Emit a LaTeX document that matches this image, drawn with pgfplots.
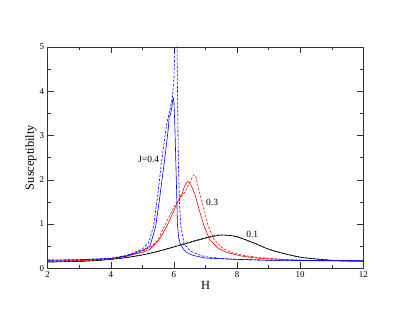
\documentclass[border=0pt]{standalone}
\usepackage{fontspec}
\setmainfont{Liberation Serif}
\usepackage{pgfplots}
\pgfplotsset{compat=1.18}
\begin{document}
\begin{tikzpicture}
\begin{axis}[
  scale only axis,
  width=315.7bp, height=221.3bp,
  xmin=2, xmax=12, ymin=0, ymax=5,
  xtick={2,4,6,8,10,12}, minor x tick num=1,
  ytick={0,1,2,3,4,5}, minor y tick num=1,
  tick align=inside,
  major tick length=6bp, minor tick length=3bp,
  axis line style={black!80},
  every tick/.style={black!80},
  /pgf/number format/assume math mode=true,
  tick label style={font=\fontsize{9}{9}\selectfont},
  xlabel={H}, ylabel={Susceptibilty},
  label style={font=\fontsize{12.5}{12.5}\selectfont},
  xlabel style={at={(axis description cs:0.5,-0.0786)}, anchor=center},
  ylabel style={at={(axis description cs:-0.0529,0.5)}, anchor=center},
  every axis plot/.append style={line width=0.6bp},
  clip=true,
]
% J=0.1
\addplot[black, smooth] coordinates {
  (2,0.14) (2.5,0.145) (3,0.155) (3.5,0.17) (4,0.2) (4.5,0.24) (5,0.3)
  (5.5,0.38) (6,0.48) (6.5,0.58) (7,0.68) (7.25,0.72) (7.5,0.75) (7.75,0.74)
  (8,0.71) (8.5,0.58) (9,0.43) (9.5,0.33) (10,0.25) (10.5,0.21) (11,0.18)
  (11.5,0.165) (12,0.16)
};
\addplot[black, smooth, dash pattern=on 2.5bp off 1.5bp] coordinates {
  (2,0.145) (2.5,0.15) (3,0.16) (3.5,0.175) (4,0.205) (4.5,0.245) (5,0.305)
  (5.5,0.385) (6,0.49) (6.5,0.59) (7,0.69) (7.25,0.73) (7.45,0.755) (7.7,0.745)
  (8,0.71) (8.5,0.58) (9,0.43) (9.5,0.33) (10,0.25) (10.5,0.21) (11,0.18)
  (11.5,0.165) (12,0.16)
};
% J=0.3
\addplot[red] coordinates {
  (2,0.16) (3,0.17) (4,0.21) (4.5,0.27) (5,0.36) (5.24,0.43) (5.53,0.64)
  (5.77,0.94) (5.96,1.24) (6.1,1.47) (6.26,1.69) (6.35,1.88) (6.43,1.96)
  (6.5,1.93) (6.58,1.82) (6.67,1.66) (6.8,1.32) (6.96,0.94) (7.14,0.64)
  (7.4,0.45) (7.7,0.35) (8.1,0.28) (8.6,0.23) (9.3,0.2) (10.3,0.17) (12,0.16)
};
\addplot[red, dash pattern=on 2.5bp off 1.5bp] coordinates {
  (2,0.165) (3,0.175) (4,0.215) (4.5,0.27) (5,0.38) (5.3,0.5) (5.5,0.65)
  (5.69,0.94) (5.9,1.24) (6.05,1.45) (6.2,1.58) (6.37,1.75) (6.51,1.95)
  (6.6,2.08) (6.64,2.11) (6.7,2.05) (6.82,1.69) (6.96,1.32) (7.09,0.94)
  (7.28,0.64) (7.55,0.45) (7.8,0.36) (8.2,0.29) (8.7,0.24) (9.5,0.2)
  (10.5,0.17) (12,0.16)
};
% J=0.4
\addplot[blue] coordinates {
  (2,0.18) (3,0.19) (4,0.22) (4.5,0.28) (5,0.4) (5.24,0.5) (5.42,0.94)
  (5.55,1.6) (5.69,2.37) (5.78,2.9) (5.82,3.15) (5.85,3.42) (5.89,3.47)
  (5.93,3.62) (5.96,3.8) (5.98,3.84) (6.0,3.75) (6.03,3.2) (6.06,2.4)
  (6.09,1.6) (6.11,1.0) (6.15,0.7) (6.2,0.55) (6.3,0.43) (6.4,0.36)
  (6.6,0.29) (7,0.23) (8,0.2) (9,0.18) (10,0.175) (12,0.17)
};
\addplot[blue, dash pattern=on 2.5bp off 1.5bp] coordinates {
  (2,0.185) (3,0.195) (4,0.225) (4.5,0.29) (5,0.43) (5.2,0.58) (5.35,0.94)
  (5.48,1.6) (5.6,2.37) (5.7,2.9) (5.78,3.3) (5.83,3.45) (5.88,3.6)
  (5.95,3.85) (6.0,4.3) (6.03,5.0) (6.06,6.5) (6.075,8) (6.09,6.5)
  (6.1,4.8) (6.12,3.6) (6.14,2.4) (6.18,1.4) (6.22,0.94) (6.32,0.56)
  (6.45,0.44) (6.55,0.38) (6.8,0.3) (7,0.26) (7.5,0.22) (8,0.2) (9,0.18)
  (12,0.17)
};
\node[font=\fontsize{9.5}{9.5}\selectfont] at (axis cs:5.2,2.47) {J=0.4};
\node[font=\fontsize{9.5}{9.5}\selectfont] at (axis cs:7.21,1.49) {0.3};
\node[font=\fontsize{9.5}{9.5}\selectfont] at (axis cs:8.48,0.77) {0.1};
\end{axis}
\path ([xshift=-47.7bp,yshift=-47.7bp]current axis.south west)
  rectangle ([xshift=45.7bp,yshift=47bp]current axis.north east);
\end{tikzpicture}
\end{document}
